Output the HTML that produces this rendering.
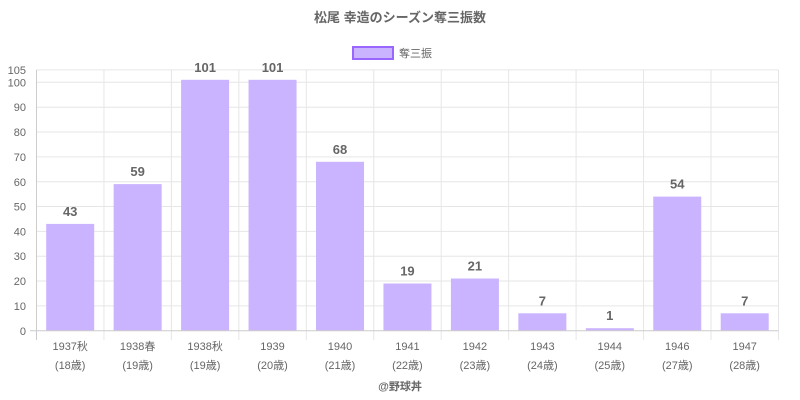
<!DOCTYPE html>
<html><head><meta charset="utf-8"><style>body{margin:0;background:#fff}svg{display:block}text{font-family:"Liberation Sans","Noto Sans CJK JP",sans-serif}</style></head><body>
<svg width="800" height="400" xmlns="http://www.w3.org/2000/svg">
<text x="400" y="22" text-anchor="middle" font-size="13" font-weight="bold" fill="#666">松尾 幸造のシーズン奪三振数</text>
<rect x="353" y="47" width="40" height="12" fill="#cbb4ff" stroke="#9966ff" stroke-width="2"/>
<text x="399" y="57" font-size="11" fill="#666">奪三振</text>
<g stroke="#e6e6e6" stroke-width="1">
<line x1="36.5" y1="69.9" x2="778.5" y2="69.9"/>
<line x1="36.5" y1="82.3" x2="778.5" y2="82.3"/>
<line x1="36.5" y1="107.2" x2="778.5" y2="107.2"/>
<line x1="36.5" y1="132" x2="778.5" y2="132"/>
<line x1="36.5" y1="156.9" x2="778.5" y2="156.9"/>
<line x1="36.5" y1="181.7" x2="778.5" y2="181.7"/>
<line x1="36.5" y1="206.5" x2="778.5" y2="206.5"/>
<line x1="36.5" y1="231.4" x2="778.5" y2="231.4"/>
<line x1="36.5" y1="256.2" x2="778.5" y2="256.2"/>
<line x1="36.5" y1="281" x2="778.5" y2="281"/>
<line x1="36.5" y1="305.9" x2="778.5" y2="305.9"/>
<line x1="103.95" y1="69.9" x2="103.95" y2="340"/>
<line x1="171.4" y1="69.9" x2="171.4" y2="340"/>
<line x1="238.85" y1="69.9" x2="238.85" y2="340"/>
<line x1="306.3" y1="69.9" x2="306.3" y2="340"/>
<line x1="373.75" y1="69.9" x2="373.75" y2="340"/>
<line x1="441.2" y1="69.9" x2="441.2" y2="340"/>
<line x1="508.65" y1="69.9" x2="508.65" y2="340"/>
<line x1="576.1" y1="69.9" x2="576.1" y2="340"/>
<line x1="643.55" y1="69.9" x2="643.55" y2="340"/>
<line x1="711" y1="69.9" x2="711" y2="340"/>
<line x1="778.5" y1="69.9" x2="778.5" y2="340"/>
</g>
<g fill="#cbb4ff">
<rect x="46.2" y="223.9" width="48" height="106.8"/>
<rect x="113.65" y="184.1" width="48" height="146.6"/>
<rect x="181.1" y="79.8" width="48" height="250.9"/>
<rect x="248.55" y="79.8" width="48" height="250.9"/>
<rect x="316" y="161.8" width="48" height="168.9"/>
<rect x="383.45" y="283.5" width="48" height="47.2"/>
<rect x="450.9" y="278.5" width="48" height="52.2"/>
<rect x="518.35" y="313.3" width="48" height="17.4"/>
<rect x="585.8" y="328.2" width="48" height="2.5"/>
<rect x="653.25" y="196.6" width="48" height="134.1"/>
<rect x="720.7" y="313.3" width="48" height="17.4"/>
</g>
<g font-size="13" font-weight="bold" fill="#666" text-anchor="middle">
<text x="70.2" y="215.9">43</text>
<text x="137.65" y="176.1">59</text>
<text x="205.1" y="71.8">101</text>
<text x="272.55" y="71.8">101</text>
<text x="340" y="153.8">68</text>
<text x="407.45" y="275.5">19</text>
<text x="474.9" y="270.5">21</text>
<text x="542.35" y="305.3">7</text>
<text x="609.8" y="320.2">1</text>
<text x="677.25" y="188.6">54</text>
<text x="744.7" y="305.3">7</text>
</g>
<line x1="30" y1="330.7" x2="778.5" y2="330.7" stroke="#ccc"/>
<line x1="36.5" y1="69.9" x2="36.5" y2="340" stroke="#ccc"/>
<g font-size="11" fill="#666" text-anchor="end">
<text x="26" y="74">105</text><text x="26" y="86.5">100</text><text x="26" y="111">90</text><text x="26" y="136">80</text><text x="26" y="161">70</text><text x="26" y="186">60</text><text x="26" y="210.5">50</text><text x="26" y="235.5">40</text><text x="26" y="260">30</text><text x="26" y="285">20</text><text x="26" y="310">10</text><text x="26" y="335">0</text>
</g>
<g font-size="11" fill="#666" text-anchor="middle">
<text x="70.2" y="350">1937秋</text><text x="70.2" y="369">(18歳)</text>
<text x="137.65" y="350">1938春</text><text x="137.65" y="369">(19歳)</text>
<text x="205.1" y="350">1938秋</text><text x="205.1" y="369">(19歳)</text>
<text x="272.55" y="350">1939</text><text x="272.55" y="369">(20歳)</text>
<text x="340" y="350">1940</text><text x="340" y="369">(21歳)</text>
<text x="407.45" y="350">1941</text><text x="407.45" y="369">(22歳)</text>
<text x="474.9" y="350">1942</text><text x="474.9" y="369">(23歳)</text>
<text x="542.35" y="350">1943</text><text x="542.35" y="369">(24歳)</text>
<text x="609.8" y="350">1944</text><text x="609.8" y="369">(25歳)</text>
<text x="677.25" y="350">1946</text><text x="677.25" y="369">(27歳)</text>
<text x="744.7" y="350">1947</text><text x="744.7" y="369">(28歳)</text>
</g>
<text x="400" y="390" text-anchor="middle" font-size="11" font-weight="bold" fill="#666">@野球丼</text>
</svg>
</body></html>
